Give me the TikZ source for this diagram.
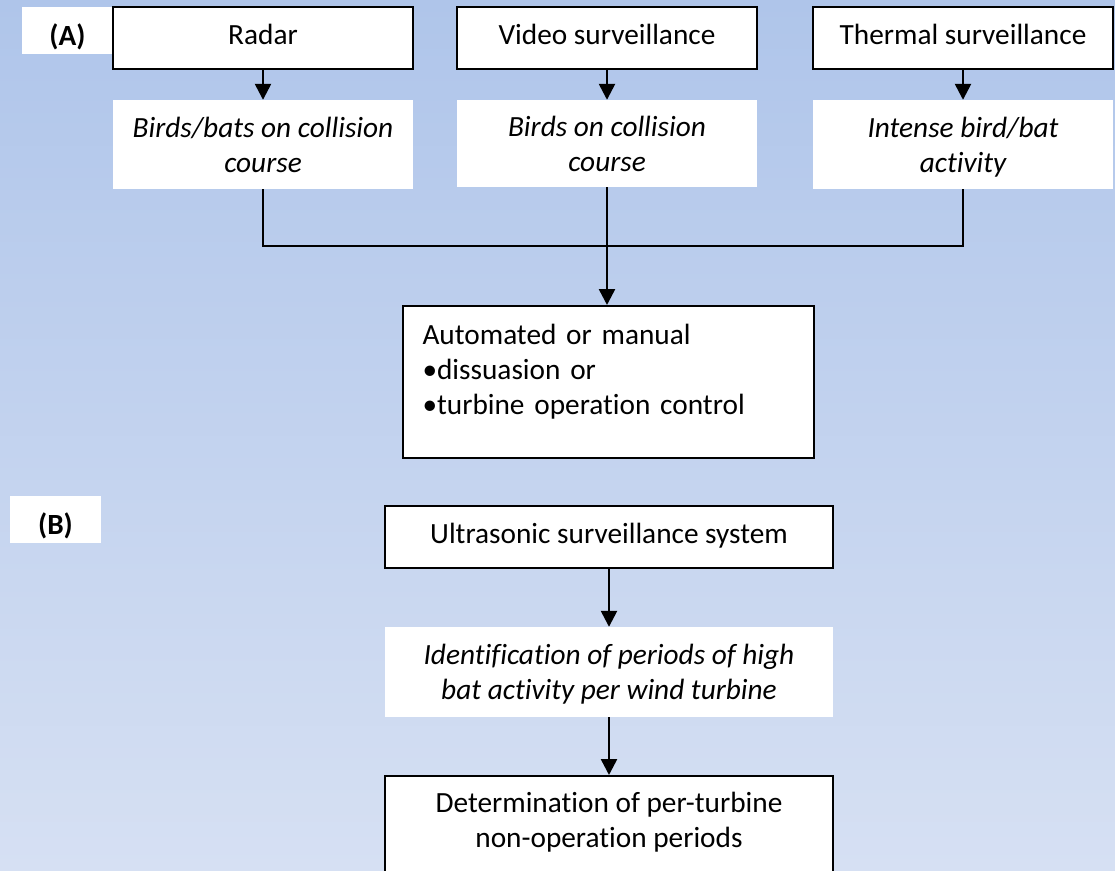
\documentclass[tikz,border=0pt]{standalone}
\usepackage{fontspec}
\setmainfont{Carlito}[Ligatures=NoCommon]
\usetikzlibrary{arrows.meta}
\definecolor{bgtop}{RGB}{175,197,234}
\definecolor{bgbot}{RGB}{214,224,243}
\begin{document}
\begin{tikzpicture}[x=1pt,y=-1pt,
  base/.style={font=\fontsize{29.3}{35}\selectfont, inner sep=0pt},
  box/.style={base, draw, fill=white, line width=2pt},
  plain/.style={base, fill=white},
  ital/.style={font=\fontsize{29.3}{35}\selectfont\itshape},
  one/.style={text height=20pt, text depth=8pt},
  two/.style={align=center, text height=55pt, text depth=0pt},
  lab/.style={base, fill=white, font=\fontsize{29.3}{35}\selectfont\bfseries, text height=29pt, text depth=0pt, minimum width=91pt, minimum height=47pt},
  conn/.style={line width=2.5pt},
  arr/.style={conn, -{Triangle[length=16pt,width=16pt]}},
]
\shade[top color=bgtop, bottom color=bgbot] (0,0) rectangle (1115,870);
\useasboundingbox (0,0) rectangle (1115,870);

\node[lab] (la) at (67.5,30.5) {(A)};
\node[box,one,minimum width=300pt,minimum height=62pt] (radar) at (263,38) {Radar};
\node[box,one,minimum width=300pt,minimum height=62pt] (video) at (607,38) {Video surveillance};
\node[box,one,minimum width=300pt,minimum height=62pt] (thermal) at (963,38) {Thermal surveillance};

\node[plain,ital,two,minimum width=300pt,minimum height=89pt] (b1) at (263,144.5) {Birds/bats on collision\\course};
\node[plain,ital,two,minimum width=300pt,minimum height=87pt] (b2) at (607,143.5) {Birds on collision\\course};
\node[plain,ital,two,minimum width=300pt,minimum height=89pt] (b3) at (963,144.5) {Intense bird/bat\\activity};

\coordinate (j) at (607,246);

\node[box, anchor=north west, align=left, text width=371pt, inner xsep=20pt, inner ysep=18pt, text height=20pt, text depth=96pt] (auto) at (401.5,305) {Automated or manual\\•dissuasion or\\•turbine operation control};

\node[lab] (lb) at (55.5,519.5) {(B)};
\node[box,one,minimum width=448pt,minimum height=62pt] (ultra) at (609,537) {Ultrasonic surveillance system};
\node[plain,ital,two,minimum width=448pt,minimum height=90pt] (ident) at (609,672) {Identification of periods of high\\bat activity per wind turbine};
\node[box, two, text depth=120pt, anchor=north, minimum width=448pt, inner ysep=16pt] (det) at (609,775) {Determination of per-turbine\\non-operation periods};

\draw[arr] (radar.south) -- (b1.north);
\draw[arr] (video.south) -- (b2.north);
\draw[arr] (thermal.south) -- (b3.north);
\draw[conn] (b1.south) |- (j) -| (b3.south);
\draw[arr] (b2.south) -- (b2.south |- auto.north);
\draw[arr] (ultra.south) -- (ident.north);
\draw[arr] (ident.south) -- (det.north);
\end{tikzpicture}
\end{document}
